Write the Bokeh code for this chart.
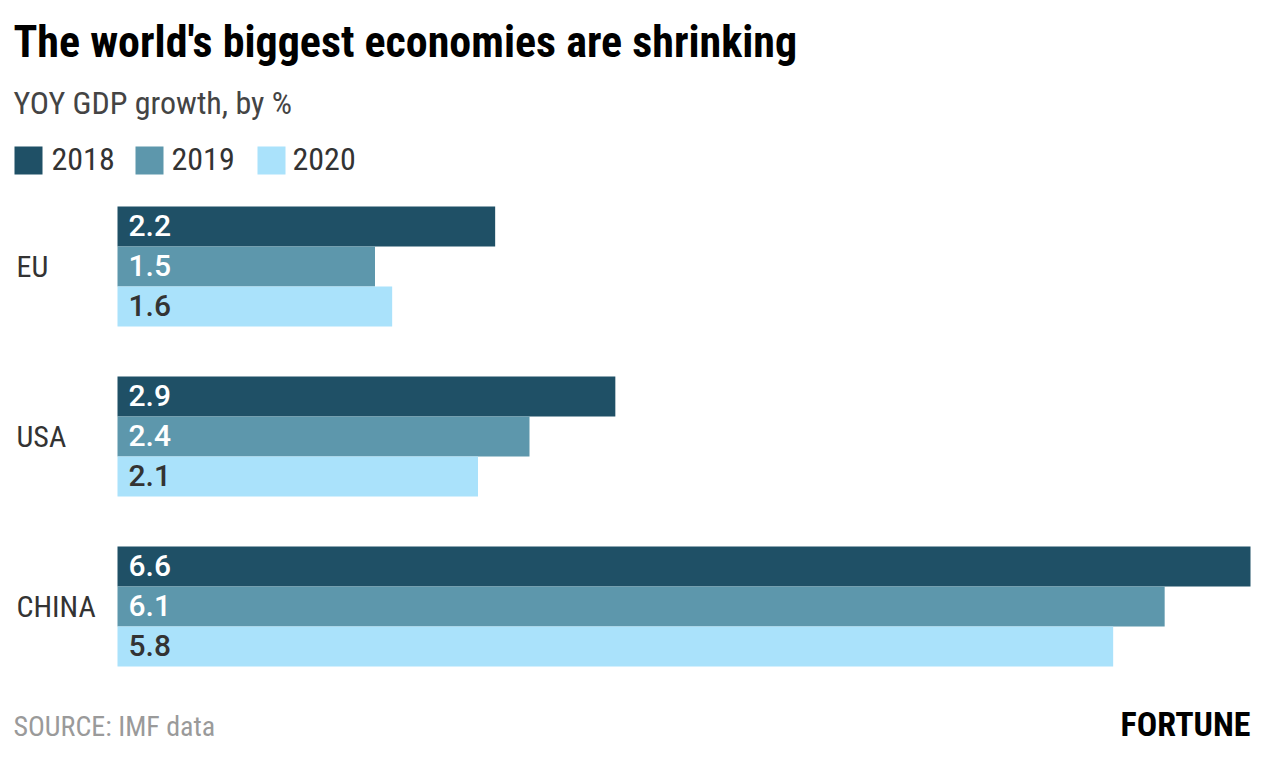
from bokeh.plotting import figure
from bokeh.models import Range1d, Label
from bokeh.core.properties import value
from bokeh.embed import file_html
from bokeh.resources import INLINE

# ---- data ----
categories = ["EU", "USA", "CHINA"]
years = ["2018", "2019", "2020"]
gdp_2018 = [2.2, 2.9, 6.6]
gdp_2019 = [1.5, 2.4, 6.1]
gdp_2020 = [1.6, 2.1, 5.8]
series = [gdp_2018, gdp_2019, gdp_2020]

# ---- styles ----
colors = ["#1f5066", "#5d97ac", "#aae2fb"]
label_colors = ["#ffffff", "#ffffff", "#333333"]
FONT = "Roboto Condensed"
NUM_FONT = "Roboto Medium"

W, H = 1254, 748
PPU = 1133 / 6.6        # pixels per percent
ZERO_X = 117            # pixel of zero
GROUP_PX = 170          # pixels between groups
FIRST_Y = 266           # first group centre
BAR_H = 40 / GROUP_PX


def dx(px):
    return (px - ZERO_X) / PPU


def dy(py):
    return (py - FIRST_Y) / GROUP_PX


p = figure(width=W, height=H, output_backend="svg", toolbar_location=None,
           x_range=Range1d(dx(0), dx(W)),
           y_range=Range1d(dy(H), dy(0)),
           min_border=0, x_axis_location=None, y_axis_location=None)
p.grid.visible = False
p.outline_line_color = None
p.background_fill_color = "white"
p.border_fill_color = "white"

offsets = [-BAR_H, 0, BAR_H]
for j, vals in enumerate(series):
    ys = [i + offsets[j] for i in range(len(categories))]
    p.hbar(y=ys, left=0, right=vals, height=BAR_H, color=colors[j], line_color=None)
    p.text(x=[0] * len(vals), y=ys, text=[f"{v:.1f}" for v in vals], x_offset=11,
           y_offset=-1, text_baseline="middle", text_font=value(NUM_FONT),
           text_font_size="30px", text_color=label_colors[j])

# category labels
p.text(x=[dx(16)] * len(categories), y=list(range(len(categories))), text=categories,
       text_baseline="middle", text_font=value(FONT), text_font_size="30px",
       text_color="#333333")

# legend
sw_x = [28, 149, 271]
tx_x = [51, 171, 292]
p.rect(x=[dx(v) for v in sw_x], y=[dy(160)] * 3, width=28, height=28,
       width_units="screen", height_units="screen", color=colors, line_color=None)
p.text(x=[dx(v) for v in tx_x], y=[dy(158)] * 3, text=years, text_baseline="middle",
       text_font=value(FONT), text_font_size="32px", text_color="#333333")

# titles & footer
p.add_layout(Label(x=dx(13), y=dy(41), text="The world's biggest economies are shrinking",
                   text_baseline="middle", text_font=FONT, text_font_style="bold",
                   text_font_size="44px", text_color="#000000"))
p.add_layout(Label(x=dx(13), y=dy(102), text="YOY GDP growth, by %",
                   text_baseline="middle", text_font=FONT, text_font_size="32px",
                   text_color="#444444"))
p.add_layout(Label(x=dx(13), y=dy(726), text="SOURCE: IMF data",
                   text_baseline="middle", text_font=FONT, text_font_size="28px",
                   text_color="#9a9a9a"))
p.add_layout(Label(x=dx(1250), y=dy(723), text="FORTUNE", text_align="right",
                   text_baseline="middle", text_font=FONT, text_font_style="bold",
                   text_font_size="34px", text_color="#000000"))

open("out.html", "w").write(file_html(p, INLINE))
